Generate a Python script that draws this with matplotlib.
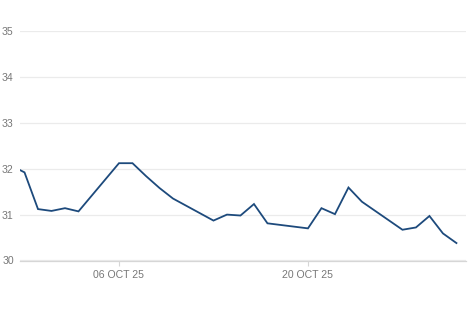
import matplotlib
matplotlib.use("Agg")
import matplotlib.pyplot as plt
import pandas as pd

dates = ["2025-09-28 16:00", "2025-09-29", "2025-09-30", "2025-10-01", "2025-10-02",
         "2025-10-03", "2025-10-06", "2025-10-07", "2025-10-08", "2025-10-09",
         "2025-10-10", "2025-10-13", "2025-10-14", "2025-10-15", "2025-10-16",
         "2025-10-17", "2025-10-20", "2025-10-21", "2025-10-22", "2025-10-23",
         "2025-10-24", "2025-10-27", "2025-10-28", "2025-10-29", "2025-10-30",
         "2025-10-31"]
values = [31.97, 31.92, 31.12, 31.08, 31.14, 31.07, 32.12, 32.12, 31.84, 31.58,
          31.35, 30.87, 31.00, 30.98, 31.23, 30.81, 30.70, 31.14, 31.01, 31.59,
          31.28, 30.67, 30.72, 30.97, 30.59, 30.38]
x_ticks = ["2025-10-06", "2025-10-20"]
y_ticks = [30, 31, 32, 33, 34, 35]

x = pd.to_datetime(dates, format="mixed")

fig = plt.figure(figsize=(4.68, 3.12), dpi=100)
ax = fig.add_axes([20 / 468, 1 - 260.5 / 312, 446 / 468, 229.5 / 312])

ax.plot(x, values, color="#1d4a7c", linewidth=1.3, solid_joinstyle="miter")

ax.set_xlim(x[0], pd.Timestamp("2025-10-31 17:00"))
ax.set_ylim(30, 35)
ax.set_yticks(y_ticks)
xt = pd.to_datetime(x_ticks)
ax.set_xticks(xt)
ax.set_xticklabels([t.strftime("%d %b %y").upper() for t in xt])

for s in ["top", "right", "left"]:
    ax.spines[s].set_visible(False)
ax.spines["bottom"].set_color("#d6d6d6")
ax.spines["bottom"].set_linewidth(0.9)

ax.grid(axis="y", color="#ebebeb", linewidth=0.9)
ax.set_axisbelow(True)
ax.tick_params(axis="y", length=0, pad=4.5, labelsize=7.6, labelcolor="#777777")
ax.tick_params(axis="x", length=3.5, width=0.8, color="#d6d6d6", pad=3,
               labelsize=7.6, labelcolor="#777777")
for lab in ax.get_xticklabels() + ax.get_yticklabels():
    lab.set_family(["Liberation Sans", "DejaVu Sans"])

fig.savefig("out.png", dpi=100, facecolor="white")
